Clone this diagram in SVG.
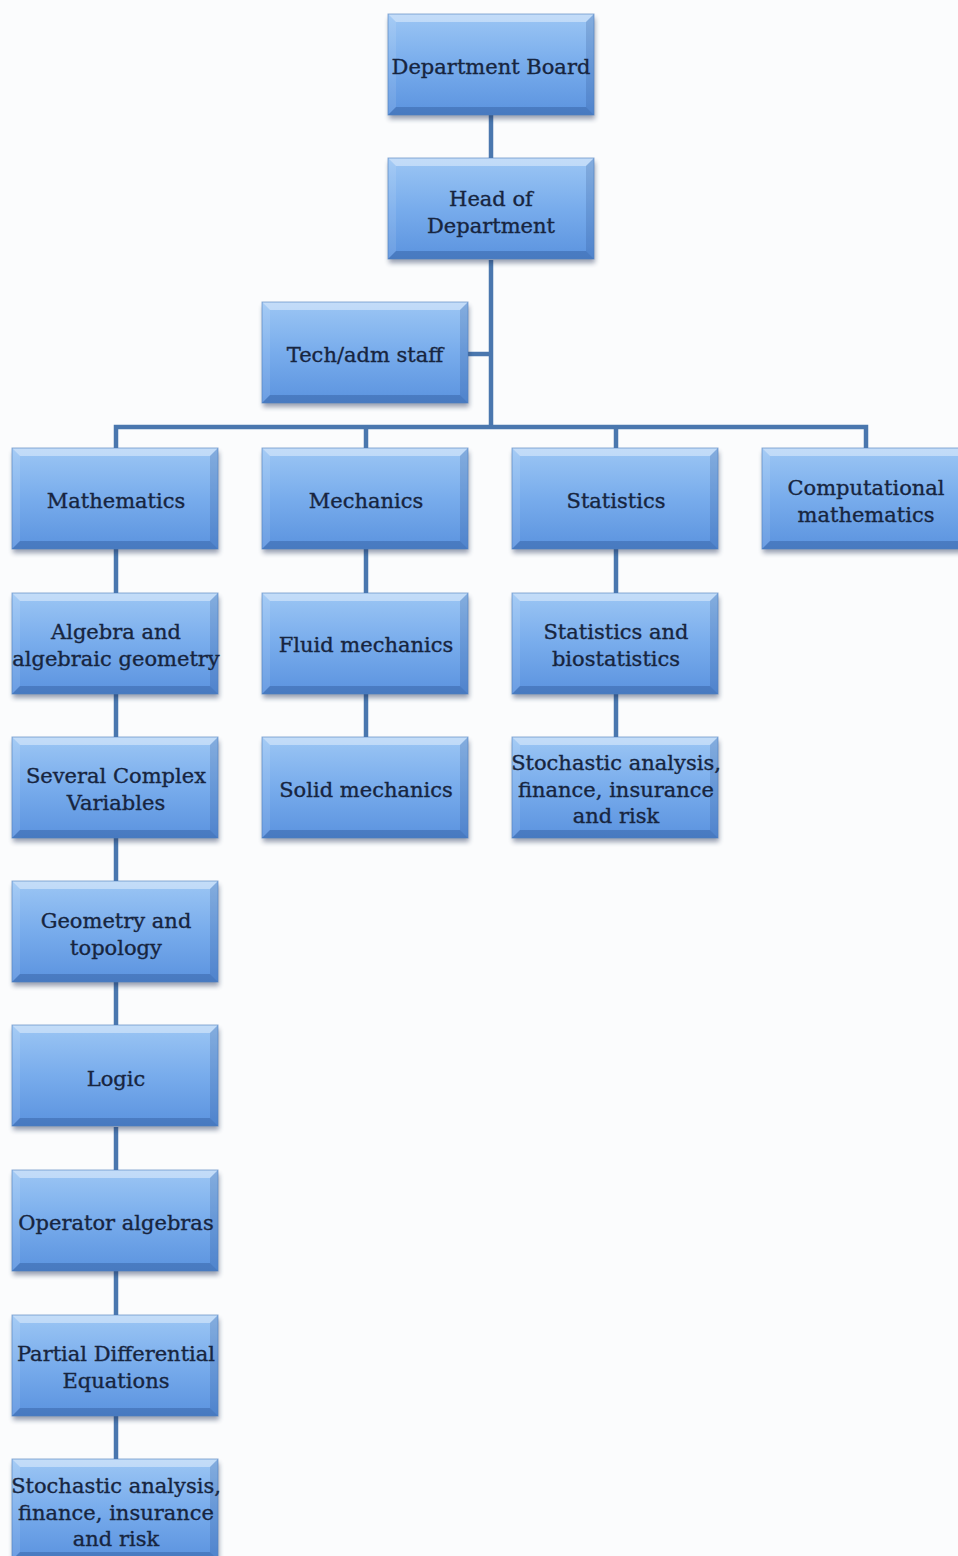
<svg xmlns="http://www.w3.org/2000/svg" xmlns:xlink="http://www.w3.org/1999/xlink" width="958" height="1556" viewBox="0 0 958 1556">
  <style>
    .lbl { font-family: "DejaVu Serif", "Liberation Serif", serif; font-size: 21px; fill: #17253f; stroke: #17253f; stroke-width: 0.35; text-anchor: middle; }
    .wire { fill: none; stroke: #4a77ae; stroke-width: 4.5; stroke-linejoin: miter; }
  </style>
  <defs>
    <linearGradient id="face" x1="0" y1="0" x2="0" y2="1">
      <stop offset="0" stop-color="#9cc6f4"/>
      <stop offset="0.5" stop-color="#78acec"/>
      <stop offset="1" stop-color="#5b93df"/>
    </linearGradient>
    <filter id="drop" x="-10%" y="-10%" width="120%" height="130%">
      <feGaussianBlur stdDeviation="2.5"/>
    </filter>
    <!-- bevelled box, 206 x 101 -->
    <g id="box">
      <rect x="1" y="4" width="206" height="101" fill="#1a2f55" opacity="0.45" filter="url(#drop)"/>
      <rect x="0" y="0" width="206" height="101" fill="url(#face)"/>
      <polygon points="0,0 206,0 198,8 8,8" fill="#ffffff" opacity="0.4"/>
      <polygon points="0,0 8,8 8,93 0,101" fill="#ffffff" opacity="0.1"/>
      <polygon points="206,0 206,101 198,93 198,8" fill="#1a3f7a" opacity="0.18"/>
      <polygon points="0,101 8,93 198,93 206,101" fill="#1a3f7a" opacity="0.3"/>
      <rect x="0" y="0" width="206" height="101" fill="none" stroke="#4d7fc0" stroke-width="1" opacity="0.6"/>
    </g>
  </defs>

  <rect x="0" y="0" width="958" height="1556" fill="#fbfcfd"/>

  <g id="connectors">
    <path class="wire" d="M491 115 V158"/>
    <path class="wire" d="M491 260 V427"/>
    <path class="wire" d="M468 354 H491"/>
    <path class="wire" d="M116 448 V427 H866 V448"/>
    <path class="wire" d="M366 427 V448"/>
    <path class="wire" d="M616 427 V448"/>
    <path class="wire" d="M116 549 V593 M116 694 V737 M116 838 V881 M116 982 V1025 M116 1127 V1170 M116 1271 V1315 M116 1416 V1459"/>
    <path class="wire" d="M366 549 V593 M366 694 V737"/>
    <path class="wire" d="M616 549 V593 M616 694 V737"/>
  </g>

  <g id="department-board">
    <use href="#box" x="388" y="14"/>
    <text class="lbl" x="491" y="74">Department Board</text>
  </g>
  <g id="head-of-department">
    <use href="#box" x="388" y="158"/>
    <text class="lbl" x="491" y="206">Head of</text>
    <text class="lbl" x="491" y="233">Department</text>
  </g>
  <g id="tech-adm-staff">
    <use href="#box" x="262" y="302"/>
    <text class="lbl" x="365" y="362">Tech/adm staff</text>
  </g>

  <g id="mathematics">
    <use href="#box" x="12" y="448"/>
    <text class="lbl" x="116" y="508">Mathematics</text>
  </g>
  <g id="mechanics">
    <use href="#box" x="262" y="448"/>
    <text class="lbl" x="366" y="508">Mechanics</text>
  </g>
  <g id="statistics">
    <use href="#box" x="512" y="448"/>
    <text class="lbl" x="616" y="508">Statistics</text>
  </g>
  <g id="computational-mathematics">
    <use href="#box" x="762" y="448"/>
    <text class="lbl" x="866" y="495">Computational</text>
    <text class="lbl" x="866" y="522">mathematics</text>
  </g>

  <g id="algebra">
    <use href="#box" x="12" y="593"/>
    <text class="lbl" x="116" y="639">Algebra and</text>
    <text class="lbl" x="116" y="666">algebraic geometry</text>
  </g>
  <g id="fluid-mechanics">
    <use href="#box" x="262" y="593"/>
    <text class="lbl" x="366" y="652">Fluid mechanics</text>
  </g>
  <g id="statistics-biostatistics">
    <use href="#box" x="512" y="593"/>
    <text class="lbl" x="616" y="639">Statistics and</text>
    <text class="lbl" x="616" y="666">biostatistics</text>
  </g>

  <g id="several-complex-variables">
    <use href="#box" x="12" y="737"/>
    <text class="lbl" x="116" y="783">Several Complex</text>
    <text class="lbl" x="116" y="810">Variables</text>
  </g>
  <g id="solid-mechanics">
    <use href="#box" x="262" y="737"/>
    <text class="lbl" x="366" y="797">Solid mechanics</text>
  </g>
  <g id="stochastic-analysis-stat">
    <use href="#box" x="512" y="737"/>
    <text class="lbl" x="616" y="770">Stochastic analysis,</text>
    <text class="lbl" x="616" y="797">finance, insurance</text>
    <text class="lbl" x="616" y="823">and risk</text>
  </g>

  <g id="geometry-topology">
    <use href="#box" x="12" y="881"/>
    <text class="lbl" x="116" y="928">Geometry and</text>
    <text class="lbl" x="116" y="955">topology</text>
  </g>
  <g id="logic">
    <use href="#box" x="12" y="1025"/>
    <text class="lbl" x="116" y="1086">Logic</text>
  </g>
  <g id="operator-algebras">
    <use href="#box" x="12" y="1170"/>
    <text class="lbl" x="116" y="1230">Operator algebras</text>
  </g>
  <g id="partial-differential-equations">
    <use href="#box" x="12" y="1315"/>
    <text class="lbl" x="116" y="1361">Partial Differential</text>
    <text class="lbl" x="116" y="1388">Equations</text>
  </g>
  <g id="stochastic-analysis-math">
    <use href="#box" x="12" y="1459"/>
    <text class="lbl" x="116" y="1493">Stochastic analysis,</text>
    <text class="lbl" x="116" y="1520">finance, insurance</text>
    <text class="lbl" x="116" y="1546">and risk</text>
  </g>
</svg>
